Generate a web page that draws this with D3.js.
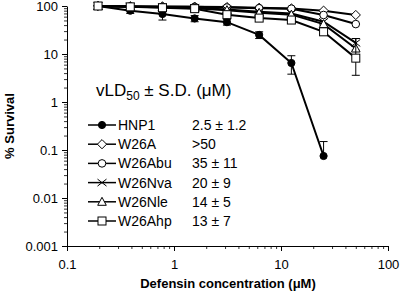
<!DOCTYPE html>
<html>
<head>
<meta charset="utf-8">
<script src="https://d3js.org/d3.v7.min.js"></script>
<style>
  body { margin: 0; background: #fff; }
  svg { font-family: "Liberation Sans", Arial, sans-serif; }
  .tick text { font-size: 13px; fill: #000; }
</style>
</head>
<body>
<script>
// ---------------------------------------------------------------
// data
// ---------------------------------------------------------------
var conc = [0.195, 0.39, 0.78, 1.56, 3.125, 6.25, 12.5, 25, 50];

var names   = ["HNP1", "W26A", "W26Abu", "W26Nva", "W26Nle", "W26Ahp"];
var symbols = ["dot", "diamond", "circle", "cross", "triangle", "square"];
var ld50    = ["2.5 \u00b1 1.2", ">50", "35 \u00b1 11", "20 \u00b1 9", "14 \u00b1 5", "13 \u00b1 7"];

var hnp1   = [100, 80, 68, 55, 46, 25, 6.5, 0.075, null];
var w26a   = [100, 99, 98, 97, 95, 92, 89, 80, 65];
var w26abu = [100, 98, 97, 96, 93, 90, 88, 65, 42];
var w26nva = [100, 97, 95, 92, 85, 76, 70, 47, 17];
var w26nle = [100, 97, 94, 90, 82, 72, 66, 42, 13];
var w26ahp = [100, 96, 92, 88, 66, 56, 51, 29, 8.2];

// error bars as [low, high] (null = none)
var hnp1Err   = [null, [70, 90], [51, 84], [47, 63], [40, 52], [21, 29], [3.8, 9.2], [null, 0.15], null];
var w26nvaErr = [null, null, null, null, null, null, null, null, [12, 21]];
var w26ahpErr = [null, null, null, null, null, null, null, null, [3.6, 21]];

var values = [hnp1, w26a, w26abu, w26nva, w26nle, w26ahp];
var errors = [hnp1Err, null, null, w26nvaErr, null, w26ahpErr];

var yTicks = [0.001, 0.01, 0.1, 1, 10, 100];
var xTicks = [0.1, 1, 10, 100];

// ---------------------------------------------------------------
var W = 400, H = 299;
var svg = d3.select("body").append("svg").attr("width", W).attr("height", H);

var x = d3.scaleLog().domain([0.1, 100]).range([67, 388]);
var y = d3.scaleLog().domain([0.001, 100]).range([246, 6]);

function minors(lo, hi) {
  var out = [];
  for (var e = Math.log10(lo); e < Math.log10(hi); e++)
    for (var k = 2; k <= 9; k++) out.push(k * Math.pow(10, e));
  return out;
}

// minor ticks
svg.append("g").attr("transform", "translate(0,246)")
  .call(d3.axisBottom(x).tickValues(minors(0.1, 100)).tickSize(3).tickFormat(""))
  .call(function(g){ g.select(".domain").remove(); g.selectAll("line").attr("stroke", "#333"); });
svg.append("g").attr("transform", "translate(67,0)")
  .call(d3.axisLeft(y).tickValues(minors(0.001, 100)).tickSize(3).tickFormat(""))
  .call(function(g){ g.select(".domain").remove(); g.selectAll("line").attr("stroke", "#333"); });

// major axes
var fmt = function(d){ return String(d); };
svg.append("g").attr("transform", "translate(0,246)")
  .call(d3.axisBottom(x).tickValues(xTicks).tickSize(5).tickSizeOuter(0).tickFormat(fmt))
  .call(function(g){ g.selectAll("text").attr("dy", "1.15em"); });
svg.append("g").attr("transform", "translate(67,0)")
  .call(d3.axisLeft(y).tickValues(yTicks).tickSize(5).tickSizeOuter(0).tickFormat(fmt))
  .call(function(g){ g.selectAll("text").attr("x", -9); });

svg.selectAll(".domain").attr("stroke", "#000");

// axis titles
svg.append("text").attr("x", 228).attr("y", 288).attr("text-anchor", "middle")
  .style("font-size", "13px").style("font-weight", "bold")
  .text("Defensin concentration (\u03bcM)");
svg.append("text").attr("transform", "translate(14,126) rotate(-90)").attr("text-anchor", "middle")
  .style("font-size", "13px").style("font-weight", "bold")
  .text("% Survival");

// marker drawing
function marker(g, type, cx, cy) {
  var m;
  if (type == "dot") {
    m = g.append("circle").attr("cx", cx).attr("cy", cy).attr("r", 3.6).attr("fill", "#000");
  } else if (type == "circle") {
    m = g.append("circle").attr("cx", cx).attr("cy", cy).attr("r", 3.8).attr("fill", "#fff");
  } else if (type == "diamond") {
    m = g.append("path").attr("d", "M" + cx + "," + (cy - 4.6) + "L" + (cx + 4.6) + "," + cy +
        "L" + cx + "," + (cy + 4.6) + "L" + (cx - 4.6) + "," + cy + "Z").attr("fill", "#fff");
  } else if (type == "square") {
    m = g.append("rect").attr("x", cx - 4).attr("y", cy - 4).attr("width", 8).attr("height", 8).attr("fill", "#fff");
  } else if (type == "triangle") {
    m = g.append("path").attr("d", "M" + cx + "," + (cy - 4.5) + "L" + (cx + 4.3) + "," + (cy + 3.5) +
        "L" + (cx - 4.3) + "," + (cy + 3.5) + "Z").attr("fill", "#fff");
  } else if (type == "cross") {
    m = g.append("path").attr("d", "M" + (cx - 4.5) + "," + (cy - 3.5) + "L" + (cx + 4.5) + "," + (cy + 3.5) +
        "M" + (cx - 4.5) + "," + (cy + 3.5) + "L" + (cx + 4.5) + "," + (cy - 3.5)).attr("fill", "none");
  }
  m.attr("stroke", "#000").attr("stroke-width", 1);
}

var line = d3.line()
  .defined(function(d){ return d != null; })
  .x(function(d, i){ return x(conc[i]); })
  .y(function(d){ return y(d); });

var plot = svg.append("g");

values.forEach(function(vals, s) {
  var g = plot.append("g");
  // error bars
  if (errors[s]) {
    errors[s].forEach(function(e, i) {
      if (!e || vals[i] == null) return;
      var cx = x(conc[i]);
      var top = e[1] != null ? y(e[1]) : y(vals[i]);
      var bot = e[0] != null ? y(e[0]) : y(vals[i]);
      g.append("line").attr("x1", cx).attr("x2", cx).attr("y1", top).attr("y2", bot)
        .attr("stroke", "#000").attr("stroke-width", 1);
      if (e[1] != null) g.append("line").attr("x1", cx - 4).attr("x2", cx + 4).attr("y1", top).attr("y2", top)
        .attr("stroke", "#000").attr("stroke-width", 1);
      if (e[0] != null) g.append("line").attr("x1", cx - 4).attr("x2", cx + 4).attr("y1", bot).attr("y2", bot)
        .attr("stroke", "#000").attr("stroke-width", 1);
    });
  }
  g.append("path").datum(vals).attr("d", line)
    .attr("fill", "none").attr("stroke", "#000").attr("stroke-width", 2);
  vals.forEach(function(v, i) {
    if (v == null) return;
    marker(g, symbols[s], x(conc[i]), y(v));
  });
});

// legend
var title = svg.append("text").attr("x", 96).attr("y", 96).style("font-size", "17px");
title.append("tspan").text("vLD");
title.append("tspan").attr("dy", 4).style("font-size", "12px").text("50");
title.append("tspan").attr("dy", -4).text(" \u00b1 S.D. (\u03bcM)");

var legendY = d3.scalePoint().domain(names).range([125, 221]);

names.forEach(function(n, s) {
  var ly = legendY(n);
  var lg = svg.append("g");
  lg.append("line").attr("x1", 88).attr("x2", 116).attr("y1", ly).attr("y2", ly)
    .attr("stroke", "#000").attr("stroke-width", 1.5);
  marker(lg, symbols[s], 102, ly);
  lg.append("text").attr("x", 118).attr("y", ly + 5).style("font-size", "14px").text(n);
  lg.append("text").attr("x", 192).attr("y", ly + 5).style("font-size", "14px").text(ld50[s]);
});
</script>
</body>
</html>
